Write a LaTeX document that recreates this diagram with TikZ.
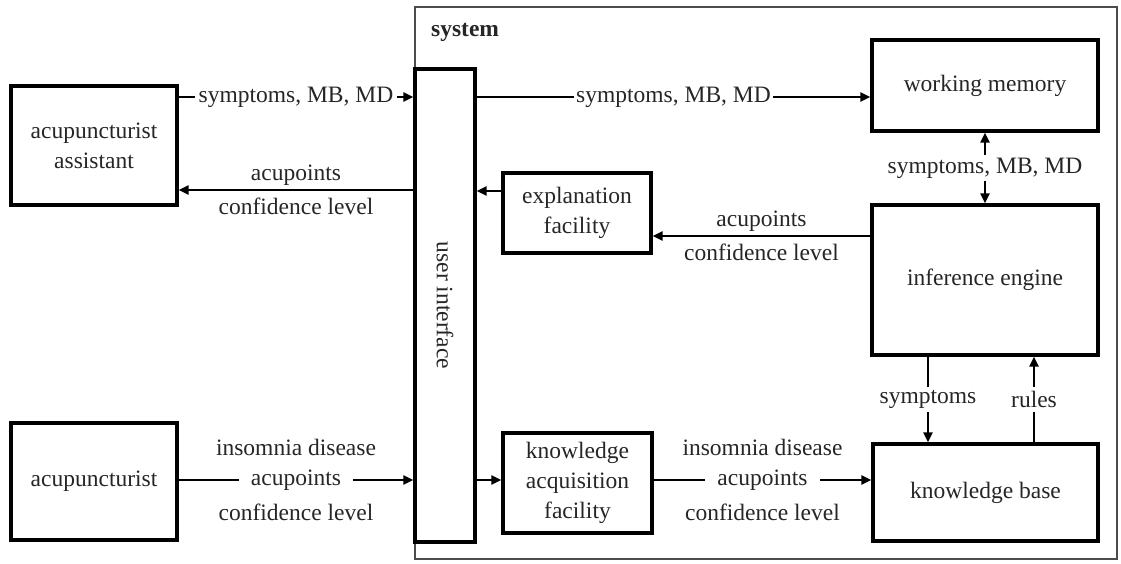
\documentclass[tikz,border=0pt]{standalone}
\usepackage{fontspec}
\setmainfont{Liberation Serif}
\usetikzlibrary{arrows.meta,calc}
\begin{document}
\begin{tikzpicture}[x=1pt,y=-1pt,
  every node/.style={font=\fontsize{23.5}{30}\selectfont, text=black!85},
  box/.style={draw=black, line width=3.2pt, align=center, inner sep=0pt},
  sysbox/.style={draw=black!70, line width=2.2pt},
  arr/.style={line width=2.8pt, -{Triangle[length=10pt,width=9pt]}},
  darr/.style={line width=2.8pt, {Triangle[length=10pt,width=9pt]}-{Triangle[length=10pt,width=9pt]}},
  lbl/.style={fill=white, inner xsep=4pt, inner ysep=1pt},
  mid/.style={fill=white, inner xsep=12pt, inner ysep=1pt},
  txt/.style={inner sep=1pt}
]
\useasboundingbox (0,0) rectangle (1121,564);
\fill[white] (0,0) rectangle (1121,564);

% system frame
\node[sysbox, minimum width=702pt, minimum height=552pt, inner sep=0pt] (sys) at (766,283) {};
\node[txt, anchor=west, font=\fontsize{23.5}{30}\selectfont\bfseries] (systxt) at (430,32) {system};

% boxes
\node[box, minimum width=166pt, minimum height=119pt] (asst) at (94,145.5) {acupuncturist\\assistant};
\node[box, minimum width=166pt, minimum height=117pt] (acu) at (94,481.5) {acupuncturist};
\node[box, minimum width=60pt, minimum height=473pt] (ui) at (445,305.5) {};
\node[rotate=-90] (uitxt) at (ui.center) {user interface};
\node[box, minimum width=226pt, minimum height=91pt] (wm) at (985,85.5) {working memory};
\node[box, minimum width=226pt, minimum height=150pt] (ie) at (985,280) {inference engine};
\node[box, minimum width=148pt, minimum height=80pt] (ef) at (577,213) {explanation\\facility};
\node[box, minimum width=149pt, minimum height=100pt] (kaf) at (577.5,483) {knowledge\\acquisition\\facility};
\node[box, minimum width=225pt, minimum height=97pt] (kb) at (985.5,492.5) {knowledge base};

% reference rows / columns
\coordinate (r1) at (0,97);
\coordinate (r2) at (0,190);
\coordinate (r3) at (0,191);
\coordinate (r4) at (0,236);
\coordinate (r5) at (0,480);
\coordinate (c1) at (928,0);
\coordinate (c2) at (1034,0);

% top-left
\draw[arr] (asst.east |- r1) -- (ui.west |- r1) node[midway, lbl] {symptoms, MB, MD};
\draw[arr] (ui.west |- r2) -- (asst.east |- r2)
  node[midway, txt, yshift=15pt] {acupoints}
  node[midway, txt, yshift=-16pt] {confidence level};

% UI to working memory
\draw[arr] (ui.east |- r1) -- (wm.west |- r1) node[midway, lbl, inner xsep=2pt] {symptoms, MB, MD};

% WM <-> IE
\draw[darr] (wm.south) -- (ie.north) node[midway, lbl, inner ysep=3pt] {symptoms, MB, MD};

% explanation facility
\draw[arr] (ef.west |- r3) -- (ui.east |- r3);
\draw[arr] (ie.west |- r4) -- (ef.east |- r4)
  node[midway, txt, yshift=15pt] {acupoints}
  node[midway, txt, yshift=-16pt] {confidence level};

% IE <-> KB
\draw[arr] (ie.south -| c1) -- (kb.north -| c1) node[midway, lbl, inner ysep=3pt] {symptoms};
\draw[arr] (kb.north -| c2) -- (ie.south -| c2) node[midway, lbl, inner ysep=4pt] {rules};

% bottom row
\draw[arr] (acu.east |- r5) -- (ui.west |- r5)
  node[midway, txt, yshift=33pt] {insomnia disease}
  node[midway, mid] {acupoints}
  node[midway, txt, yshift=-32pt] {confidence level};
\draw[arr] (ui.east |- r5) -- (kaf.west |- r5);
\draw[arr] (kaf.east |- r5) -- (kb.west |- r5)
  node[midway, txt, yshift=33pt] {insomnia disease}
  node[midway, mid] {acupoints}
  node[midway, txt, yshift=-32pt] {confidence level};
\end{tikzpicture}
\end{document}
